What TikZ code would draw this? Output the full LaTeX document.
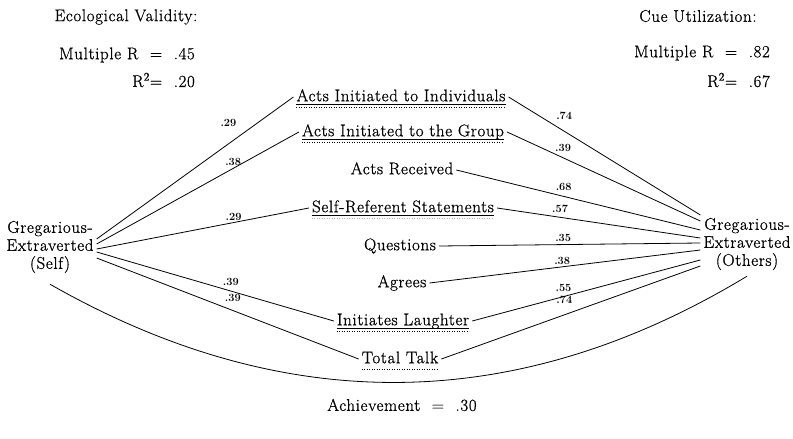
\documentclass[tikz,border=0pt]{standalone}
\usepackage{fontspec}
\newfontfamily\plotfont{Latin Modern Roman}[LetterSpace=4,FakeBold=0.8]
\begin{document}
\begin{tikzpicture}[x=1pt,y=-1pt,
  txt/.style={font=\plotfont\fontsize{16.9}{18}\selectfont, inner sep=3pt},
  cue/.style={txt, text height=11.5pt, text depth=3pt},
  lab/.style={font=\fontsize{11}{12}\selectfont\bfseries, inner sep=0.5pt},
  link/.style={line width=0.8pt},
  ul/.style={line width=0.8pt},
  dul/.style={line width=0.8pt, dash pattern=on 1pt off 1.5pt}]
\useasboundingbox (0,0) rectangle (793,439);

% headers
\node[txt] (ev) at (126,17) {Ecological Validity:};
\node[txt, anchor=east] (mrl) at (198,55) {Multiple R\ \ =\ \ .45};
\node[txt, anchor=east] (r2l) at (198,80) {R\textsuperscript{2}=\ \ .20};
\node[txt] (cu) at (698,16) {Cue Utilization:};
\node[txt, anchor=east] (mrr) at (773,53) {Multiple R\ \ =\ \ .82};
\node[txt, anchor=east] (r2r) at (773,80) {R\textsuperscript{2}=\ \ .67};

% end nodes
\node[txt, align=center] (self) at (50,247) {Gregarious-\\Extraverted\\(Self)};
\node[txt, align=center] (oth) at (747,244) {Gregarious-\\Extraverted\\(Others)};

% cues
\node[cue] (ind) at (401,97) {Acts Initiated to Individuals};
\node[cue] (grp) at (403,132) {Acts Initiated to the Group};
\node[cue] (rec) at (402,170) {Acts Received};
\node[cue] (sref) at (403,208) {Self-Referent Statements};
\node[cue] (que) at (400,246) {Questions};
\node[cue] (agr) at (402,283) {Agrees};
\node[cue] (lau) at (403,321) {Initiates Laughter};
\node[cue] (tot) at (400,359) {Total Talk};

% underlines
\foreach \n in {ind,grp,sref,lau}{
  \draw[ul] ([xshift=3pt,yshift=-3pt]\n.base west) -- ([xshift=-3pt,yshift=-3pt]\n.base east);
}
\foreach \n in {ind,grp,lau,tot}{
  \draw[dul] ([xshift=3pt,yshift=-6pt]\n.base west) -- ([xshift=-3pt,yshift=-6pt]\n.base east);
}
\draw[dul, gray!60] ([xshift=3pt,yshift=-6pt]sref.base west) -- ([xshift=-3pt,yshift=-6pt]sref.base east);

% ecological validities
\draw[link] ([yshift=8pt]self.east) -- (ind.west) node[lab, pos=0.69, yshift=18pt, xshift=-4pt] {.29};
\draw[link] ([yshift=3pt]self.east) -- (grp.west) node[lab, pos=0.675, yshift=6pt] {.38};
\draw[link] ([yshift=-2pt]self.east) -- (sref.west) node[lab, pos=0.645, yshift=6pt] {.29};
\draw[link] ([yshift=-5pt]self.east) -- (lau.west) node[lab, pos=0.566, yshift=9pt] {.39};
\draw[link] ([yshift=-11pt]self.east) -- (tot.west) node[lab, pos=0.52, yshift=13pt] {.39};

% cue utilizations
\draw[link] (ind.east) -- ([yshift=29pt]oth.west) node[lab, pos=0.29, yshift=15pt] {.74};
\draw[link] (grp.east) -- ([yshift=23pt]oth.west) node[lab, pos=0.29, yshift=10pt] {.39};
\draw[link] (rec.east) -- ([yshift=14pt]oth.west) node[lab, pos=0.44, yshift=9pt] {.68};
\draw[link] (sref.east) -- ([yshift=6pt]oth.west) node[lab, pos=0.31, yshift=8pt] {.57};
\draw[link] (que.east) -- ([yshift=1pt]oth.west) node[lab, pos=0.475, yshift=7pt] {.35};
\draw[link] (agr.east) -- ([yshift=-6pt]oth.west) node[lab, pos=0.49, yshift=6pt] {.38};
\draw[link] (lau.east) -- ([yshift=-16pt]oth.west) node[lab, pos=0.40, yshift=9pt] {.55};
\draw[link] (tot.east) -- ([yshift=-22pt]oth.west) node[lab, pos=0.475, yshift=15pt] {.74};

% achievement
\draw[link] ([yshift=-8pt]self.south) .. controls (283,417) and (516,416) .. ([yshift=-3pt]oth.south);
\node[txt] (ach) at (402,405) {Achievement\ \ =\ \ .30};
\end{tikzpicture}
\end{document}
